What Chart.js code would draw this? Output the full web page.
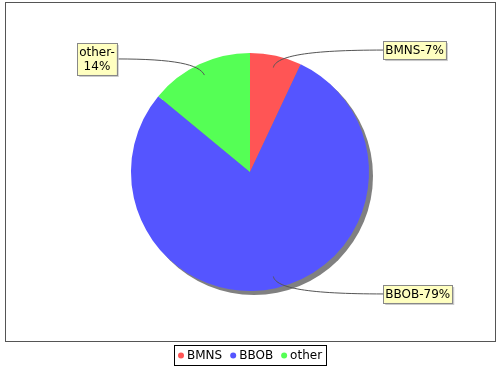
<!DOCTYPE html>
<html>
<head>
<meta charset="utf-8">
<script src="https://cdn.jsdelivr.net/npm/chart.js@4.4.0/dist/chart.umd.min.js"></script>
<style>
  body { margin: 0; background: #fff; }
  #wrap { width: 500px; height: 370px; position: relative; }
</style>
</head>
<body>
<div id="wrap"><canvas id="myChart"></canvas></div>
<script>
const categories = ['BMNS', 'BBOB', 'other']
const shares = [7, 79, 14]
const colors = ['#ff5555', '#5555ff', '#55ff55']

const FONT = '12px "DejaVu Sans"'

// JFreeChart-like look: plot frame, shadow, boxed labels with curved links, legend box
const piePlot = {
  id: 'piePlot',
  beforeDraw(chart) {
    const { ctx } = chart
    ctx.save()
    ctx.fillStyle = '#fff'
    ctx.fillRect(0, 0, chart.width, chart.height)
    ctx.strokeStyle = '#555'
    ctx.lineWidth = 1
    ctx.strokeRect(5.5, 2.5, 490, 339)
    ctx.restore()
  },
  beforeDatasetsDraw(chart) {
    const arc = chart.getDatasetMeta(0).data[0]
    if (!arc) return
    const { ctx } = chart
    ctx.save()
    ctx.fillStyle = '#808080'
    ctx.beginPath()
    ctx.arc(arc.x + 4, arc.y + 4, arc.outerRadius, 0, Math.PI * 2)
    ctx.fill()
    ctx.restore()
  },
  afterDatasetsDraw(chart) {
    const { ctx } = chart
    const meta = chart.getDatasetMeta(0)
    const total = shares.reduce((a, b) => a + b, 0)
    ctx.save()
    ctx.font = FONT
    ctx.textBaseline = 'middle'
    meta.data.forEach((arc, i) => {
      const mid = (arc.startAngle + arc.endAngle) / 2
      const R = arc.outerRadius
      const cx = arc.x
      const cy = arc.y
      const dx = Math.cos(mid)
      const dy = Math.sin(mid)
      const right = dx >= 0
      const pct = Math.round(shares[i] / total * 100) + '%'
      let lines = [categories[i] + '-' + pct]
      if (!right) lines = [categories[i] + '-', pct]

      const lineH = 14
      const w = Math.max(...lines.map(l => ctx.measureText(l).width)) + 4
      const h = lines.length * lineH + 4
      const ly = cy + dy * R * 1.05
      const edgeX = right ? cx + R * 1.12 : cx - R * 1.12
      const bx = right ? edgeX : edgeX - w
      const by = ly - h / 2

      // link
      const sx = cx + dx * R * 0.9
      const sy = cy + dy * R * 0.9
      const ex = cx + dx * R * 1.0
      const ey = cy + dy * R * 1.0
      ctx.strokeStyle = '#555'
      ctx.lineWidth = 1
      ctx.beginPath()
      ctx.moveTo(sx, sy)
      ctx.bezierCurveTo(ex, ey, ex + (edgeX - ex) * 0.3, ly, edgeX, ly)
      ctx.stroke()

      // box shadow + box
      ctx.fillStyle = '#c8c8c8'
      ctx.fillRect(bx + 2, by + 2, w, h)
      ctx.fillStyle = '#ffffc0'
      ctx.fillRect(bx, by, w, h)
      ctx.strokeStyle = '#888'
      ctx.strokeRect(Math.round(bx) + 0.5, Math.round(by) + 0.5, Math.round(w), Math.round(h))
      ctx.fillStyle = '#000'
      ctx.textAlign = 'center'
      lines.forEach((l, k) => {
        ctx.fillText(l, bx + w / 2, by + 2 + lineH / 2 + k * lineH + 0.5)
      })
    })
    ctx.restore()
  },
  afterDraw(chart) {
    const { ctx } = chart
    ctx.save()
    ctx.font = FONT
    ctx.textBaseline = 'middle'
    ctx.textAlign = 'left'
    const pad = 4, dot = 6, gapText = 3, gapItem = 8
    const widths = categories.map(c => ctx.measureText(c).width)
    const total = pad * 2 + widths.reduce((a, b) => a + b, 0) +
      categories.length * (dot + gapText) + (categories.length - 1) * gapItem
    const left = Math.round(250 - total / 2)
    const top = 345, h = 20
    ctx.fillStyle = '#fff'
    ctx.fillRect(left, top, total, h)
    ctx.strokeStyle = '#000'
    ctx.lineWidth = 1
    ctx.strokeRect(left + 0.5, top + 0.5, Math.round(total), h)
    let x = left + pad
    const y = top + h / 2 + 0.5
    categories.forEach((c, i) => {
      ctx.fillStyle = colors[i]
      ctx.beginPath()
      ctx.arc(x + dot / 2, y, dot / 2, 0, Math.PI * 2)
      ctx.fill()
      x += dot + gapText
      ctx.fillStyle = '#000'
      ctx.fillText(c, x, y)
      x += widths[i] + gapItem
    })
    ctx.restore()
  }
}

new Chart(document.getElementById('myChart'), {
  type: 'pie',
  data: {
    labels: categories,
    datasets: [{
      data: shares,
      backgroundColor: colors,
      borderWidth: 0,
      hoverOffset: 0
    }]
  },
  options: {
    responsive: true,
    maintainAspectRatio: false,
    animation: false,
    layout: { padding: { top: 2, bottom: 28, left: 131, right: 131 } },
    plugins: {
      legend: { display: false },
      tooltip: { enabled: false }
    }
  },
  plugins: [piePlot]
})
</script>
</body>
</html>
